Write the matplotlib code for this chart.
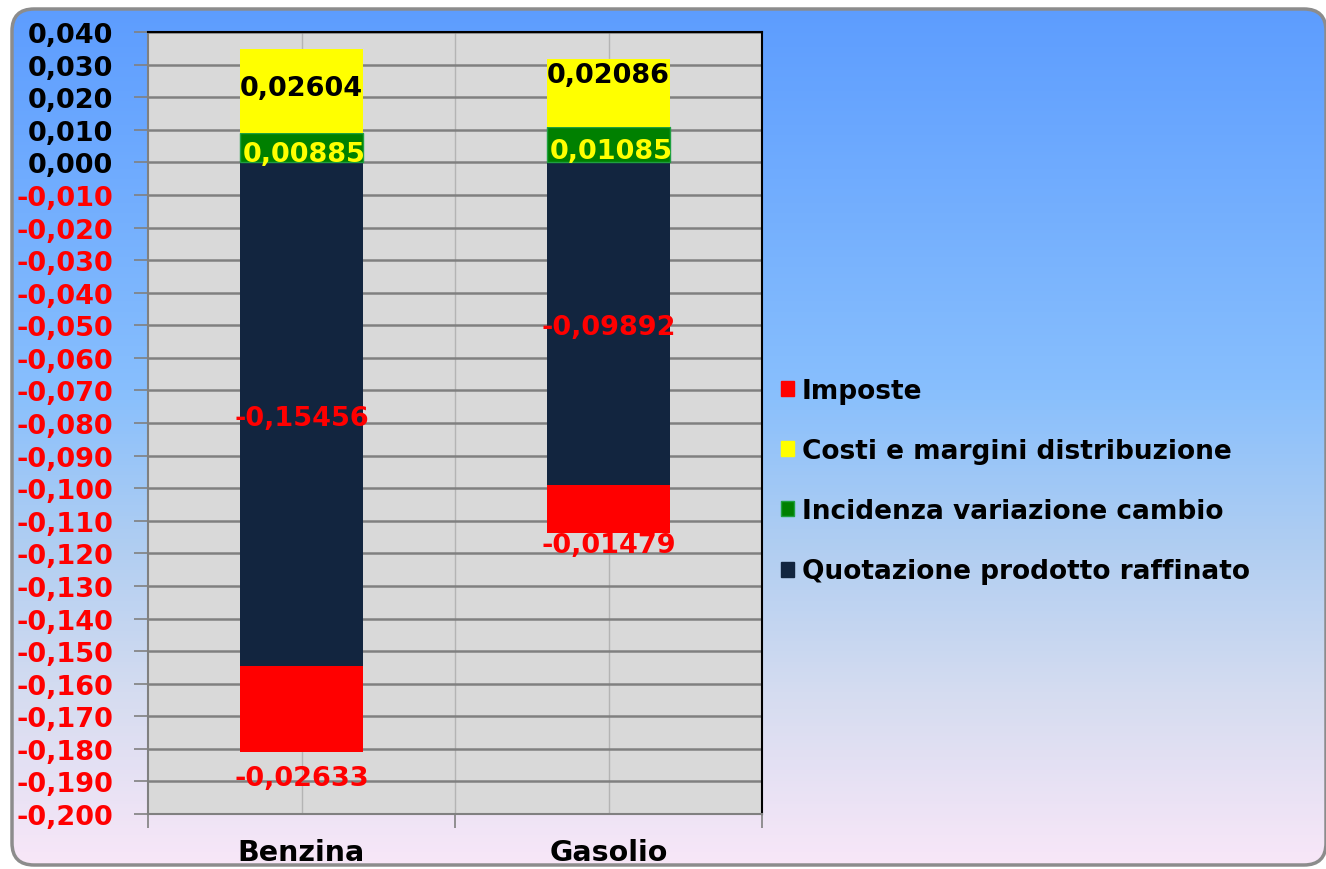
import numpy as np
import matplotlib
matplotlib.use('Agg')
import matplotlib.pyplot as plt
from matplotlib.patches import FancyBboxPatch, Patch
from matplotlib.colors import LinearSegmentedColormap

# data
categories = ['Benzina', 'Gasolio']
quotazione = [-0.15456, -0.09892]
imposte = [-0.02633, -0.01479]
incidenza = [0.00885, 0.01085]
costi = [0.02604, 0.02086]

c_red = '#FF0000'
c_yellow = '#FFFF00'
c_green = '#008000'
c_navy = '#12253F'

def fmt(v, nd):
    return f"{v:.{nd}f}".replace('.', ',')

plt.rcParams['font.family'] = 'DejaVu Sans'
plt.rcParams['font.weight'] = 'bold'

fig = plt.figure(figsize=(13.26, 8.7), dpi=100)
fig.patch.set_facecolor('white')

# background gradient with rounded border
bg = fig.add_axes([0, 0, 1, 1], zorder=-10)
bg.set_xlim(0, 1326)
bg.set_ylim(870, 0)
bg.axis('off')
cmap = LinearSegmentedColormap.from_list('bg', [(0, '#5C9CFF'), (0.45, '#88BFFD'), (0.62, '#AECDF2'),
                                                (0.8, '#D5DCF0'), (1, '#F9E7F8')])
grad = np.linspace(0, 1, 256).reshape(-1, 1)
im = bg.imshow(grad, cmap=cmap, aspect='auto', extent=[0, 1326, 870, 0])
frame = FancyBboxPatch((12, 10), 1314, 856, boxstyle='round,pad=0,rounding_size=22',
                       facecolor='none', edgecolor='#8C8C8C', linewidth=2.5)
bg.add_patch(frame)
im.set_clip_path(frame)

ax = fig.add_axes([148 / 1326, 55 / 870, 614 / 1326, 782 / 870])
ax.set_facecolor('#D9D9D9')

x = np.array([0.5, 1.5])
w = 0.4
ax.bar(x, quotazione, w, color=c_navy, zorder=3)
ax.bar(x, imposte, w, bottom=quotazione, color=c_red, zorder=3)
ax.bar(x, incidenza, w, color=c_green, edgecolor='#1FA040', linewidth=1, zorder=3)
ax.bar(x, costi, w, bottom=incidenza, color=c_yellow, zorder=3)

fs = 19.5
lab_kw = dict(ha='center', va='center', fontsize=fs, fontweight='bold', zorder=5)
for i in range(2):
    ax.text(x[i], quotazione[i] / 2 - 0.0012, fmt(quotazione[i], 5), color=c_red, **lab_kw)
    ax.text(x[i] + 0.01, incidenza[i] / 2 - 0.0018, fmt(incidenza[i], 5), color=c_yellow, **lab_kw)
ax.text(x[0], quotazione[0] + imposte[0] - 0.0081, fmt(imposte[0], 5), color=c_red, **lab_kw)
ax.text(x[1], quotazione[1] + imposte[1] - 0.0037, fmt(imposte[1], 5), color=c_red, **lab_kw)
ax.text(x[0], incidenza[0] + costi[0] / 2 + 0.0008, fmt(costi[0], 5), color='black', **lab_kw)
ax.text(x[1], incidenza[1] + costi[1] / 2 + 0.0055, fmt(costi[1], 5), color='black', **lab_kw)

ax.set_xlim(0, 2)
ax.set_ylim(-0.200, 0.040)
yticks = np.round(np.arange(-0.200, 0.0401, 0.010), 3)
ax.set_yticks(yticks)
ax.set_yticklabels([fmt(v, 3) if v < -1e-9 else fmt(abs(v), 3) for v in yticks], fontsize=fs, fontweight='bold')
for lab, v in zip(ax.get_yticklabels(), yticks):
    lab.set_color(c_red if v < -1e-9 else 'black')

ax.set_xticks([0, 1, 2])
ax.set_xticklabels([])
ax.set_xticks(x, minor=True)
ax.set_xticklabels(categories, minor=True, fontsize=20.5, fontweight='bold')
ax.tick_params(axis='x', which='minor', length=0, pad=17)
ax.tick_params(axis='x', which='major', length=10, color='#808080', width=1.2)
ax.tick_params(axis='y', length=10, color='#808080', width=1.2, pad=15)

ax.yaxis.grid(True, color='#808080', linewidth=1.8, zorder=0)
ax.xaxis.grid(True, which='minor', color='#B4B4B4', linewidth=1, zorder=0)
ax.axvline(1, color='#B4B4B4', linewidth=1, zorder=0)
ax.set_axisbelow(True)

ax.spines['left'].set_color('#808080')
ax.spines['bottom'].set_color('#808080')
ax.spines['top'].set_color('black')
ax.spines['right'].set_color('black')
for s in ax.spines.values():
    s.set_linewidth(1.5)

handles = [Patch(color=c_red, label='Imposte'),
           Patch(color=c_yellow, label='Costi e margini distribuzione'),
           Patch(facecolor=c_green, edgecolor='#1FA040', label='Incidenza variazione cambio'),
           Patch(color=c_navy, label='Quotazione prodotto raffinato')]
leg = fig.legend(handles=handles, loc='upper left', bbox_to_anchor=(770 / 1326, 1 - 368 / 870),
                 frameon=False, fontsize=19, handlelength=0.5, handleheight=0.5,
                 handletextpad=0.3, labelspacing=1.3, borderaxespad=0)
for t in leg.get_texts():
    t.set_fontweight('bold')

fig.savefig('out.png', dpi=100)
